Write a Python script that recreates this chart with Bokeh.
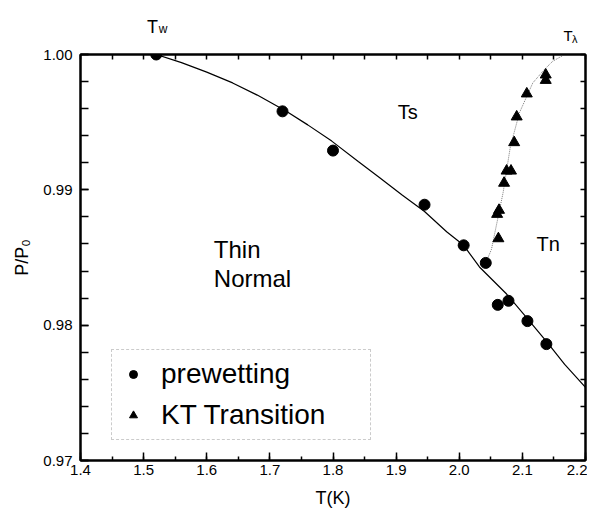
import numpy as np
from bokeh.plotting import figure
from bokeh.layouts import column
from bokeh.models import (Range1d, LinearAxis, SingleIntervalTicker, FixedTicker, NumeralTickFormatter,
                          Legend, LegendItem, ColumnDataSource)
from bokeh.core.properties import value
from bokeh.embed import file_html
from bokeh.resources import INLINE

# prewetting points
prew_T = [1.52, 1.72, 1.80, 1.945, 2.007, 2.042, 2.061, 2.078, 2.108, 2.138]
prew_P = [1.000, 0.9958, 0.9929, 0.9889, 0.9859, 0.9846, 0.9815, 0.9818, 0.9803, 0.9786]

# KT transition points
kt_T = [2.062, 2.060, 2.063, 2.071, 2.075, 2.082, 2.087, 2.091, 2.107, 2.137, 2.137]
kt_P = [0.9864, 0.9882, 0.9885, 0.9905, 0.9914, 0.9914, 0.9935, 0.9954, 0.9971, 0.9981, 0.9985]

# solid fit curve
fit_T = [1.52, 1.56, 1.60, 1.641, 1.68, 1.726, 1.76, 1.798, 1.84, 1.874, 1.91, 1.945,
         1.98, 2.007, 2.032, 2.075, 2.106, 2.14, 2.167, 2.20]
fit_P = [1.0000, 0.9994, 0.9987, 0.9979, 0.9970, 0.9958, 0.9948, 0.9936, 0.9921, 0.9909,
         0.9896, 0.9884, 0.9869, 0.9859, 0.9843, 0.9823, 0.9806, 0.9787, 0.9771, 0.9754]

# dotted KT curve
ktfit_T = [2.042, 2.051, 2.0695, 2.081, 2.0954, 2.1165, 2.135, 2.148, 2.167]
ktfit_P = [0.9846, 0.9856, 0.9898, 0.9932, 0.9957, 0.9979, 0.9989, 0.9995, 1.0000]

# region labels
region_T = [1.9024, 2.1223]
region_P = [0.99577, 0.98599]
region_text = ["Ts", "Tn"]
thin_T = [1.6112, 1.6112]
thin_P = [0.98562, 0.98342]
thin_text = ["Thin", "Normal"]

FONT = "Liberation Sans"
W = 587
TOP_H = 44
xr = Range1d(1.4, 2.2)

# ---- strip above the frame, for the T_w and T_lambda markers
strip = figure(width=W, height=TOP_H, x_range=xr, y_range=Range1d(0, TOP_H),
               x_axis_type=None, y_axis_type=None, output_backend="svg", toolbar_location=None,
               min_border_left=80, min_border_right=2, min_border_top=0, min_border_bottom=0,
               background_fill_color="white", border_fill_color="white")
strip.outline_line_color = None
strip.xgrid.visible = False
strip.ygrid.visible = False
big = ColumnDataSource(dict(x=[1.5055, 2.1651], y=[18, 9], t=["T", "T"], fs=["18px", "15px"]))
sub = ColumnDataSource(dict(x=[1.5240, 2.1786], y=[16, 6], t=["w", "\u03bb"], fs=["12px", "11px"]))
for s in (big, sub):
    strip.text("x", "y", text="t", source=s, text_font=value(FONT), text_font_size="fs",
               text_baseline="alphabetic", text_align="left", text_color="black")

# ---- main plot
p = figure(width=W, height=513 - TOP_H, x_range=xr, y_range=Range1d(0.97, 1.0),
           output_backend="svg", toolbar_location=None,
           min_border_left=80, min_border_right=2, min_border_top=10, min_border_bottom=53,
           background_fill_color="white", border_fill_color="white")
p.xgrid.visible = False
p.ygrid.visible = False
p.outline_line_color = "black"
p.outline_line_width = 2

xt = SingleIntervalTicker(interval=0.1, num_minor_ticks=2)
yt = SingleIntervalTicker(interval=0.01, num_minor_ticks=5)

for ax in p.xaxis:
    ax.ticker = xt
    ax.formatter = NumeralTickFormatter(format="0.0")
    ax.major_tick_in = 8
    ax.major_tick_out = 0
    ax.minor_tick_in = 4
    ax.minor_tick_out = 0
    ax.axis_line_width = 2
    ax.major_tick_line_width = 1.5
    ax.minor_tick_line_width = 1.5
    ax.major_label_text_font = FONT
    ax.major_label_text_font_size = "15px"
    ax.major_label_text_color = "black"
    ax.major_label_standoff = 4
    ax.axis_label = "T(K)"
    ax.axis_label_text_font = FONT
    ax.axis_label_text_font_style = "normal"
    ax.axis_label_text_font_size = "18px"
    ax.axis_label_text_color = "black"
    ax.axis_label_standoff = 10

for ax in p.yaxis:
    ax.ticker = yt
    ax.formatter = NumeralTickFormatter(format="0.00")
    ax.major_tick_in = 8
    ax.major_tick_out = 0
    ax.minor_tick_in = 8
    ax.minor_tick_out = 0
    ax.axis_line_width = 2
    ax.major_tick_line_width = 1.5
    ax.minor_tick_line_width = 1.5
    ax.major_label_text_font = FONT
    ax.major_label_text_font_size = "15px"
    ax.major_label_text_color = "black"
    ax.major_label_standoff = 8
    ax.axis_label = "P/P\u2080"
    ax.axis_label_text_font = FONT
    ax.axis_label_text_font_style = "normal"
    ax.axis_label_text_font_size = "18px"
    ax.axis_label_text_color = "black"
    ax.axis_label_standoff = 8

# top / right frame axes: ticks only, no labels
top_ticks = [float(v) for v in np.round(np.arange(1.4, 2.2001, 0.05), 3)]
right_ticks = [float(v) for v in np.round(np.arange(0.97, 1.0001, 0.002), 4)]
top = LinearAxis(ticker=FixedTicker(ticks=[], minor_ticks=top_ticks),
                 minor_tick_in=5, minor_tick_out=0, major_tick_in=0, major_tick_out=0,
                 axis_line_width=2, minor_tick_line_width=1.5)
right = LinearAxis(ticker=FixedTicker(ticks=[], minor_ticks=right_ticks),
                   minor_tick_in=5, minor_tick_out=0, major_tick_in=0, major_tick_out=0,
                   axis_line_width=2, minor_tick_line_width=1.5)
p.add_layout(top, "above")
p.add_layout(right, "right")

p.line(fit_T, fit_P, line_color="black", line_width=1.2)
p.line(ktfit_T, ktfit_P, line_color="#777777", line_width=1, line_dash="1 1")

c = p.scatter(prew_T, prew_P, marker="circle", size=11, fill_color="black", line_color="black")
t = p.scatter(kt_T, kt_P, marker="triangle", size=11, fill_color="black", line_color="black")

p.text(region_T, region_P, text=region_text, text_font=value(FONT), text_font_size="20px",
       text_baseline="alphabetic", text_align="left", text_color="black")
p.text(thin_T, thin_P, text=thin_text, text_font=value(FONT), text_font_size="24px",
       text_baseline="alphabetic", text_align="left", text_color="black")

legend = Legend(items=[LegendItem(label="prewetting", renderers=[c]),
                       LegendItem(label="KT Transition", renderers=[t])],
                location=(31, 20), margin=0, padding=8, spacing=9,
                glyph_width=26, glyph_height=20, label_standoff=15,
                label_height=32, label_width=201,
                label_text_font=FONT, label_text_font_size="28px", label_text_color="black",
                border_line_color="#999999", border_line_dash="2 1", border_line_width=1,
                background_fill_color="white", background_fill_alpha=1.0)
p.add_layout(legend)

layout = column(strip, p, spacing=0)
open("out.html", "w").write(file_html(layout, INLINE))
